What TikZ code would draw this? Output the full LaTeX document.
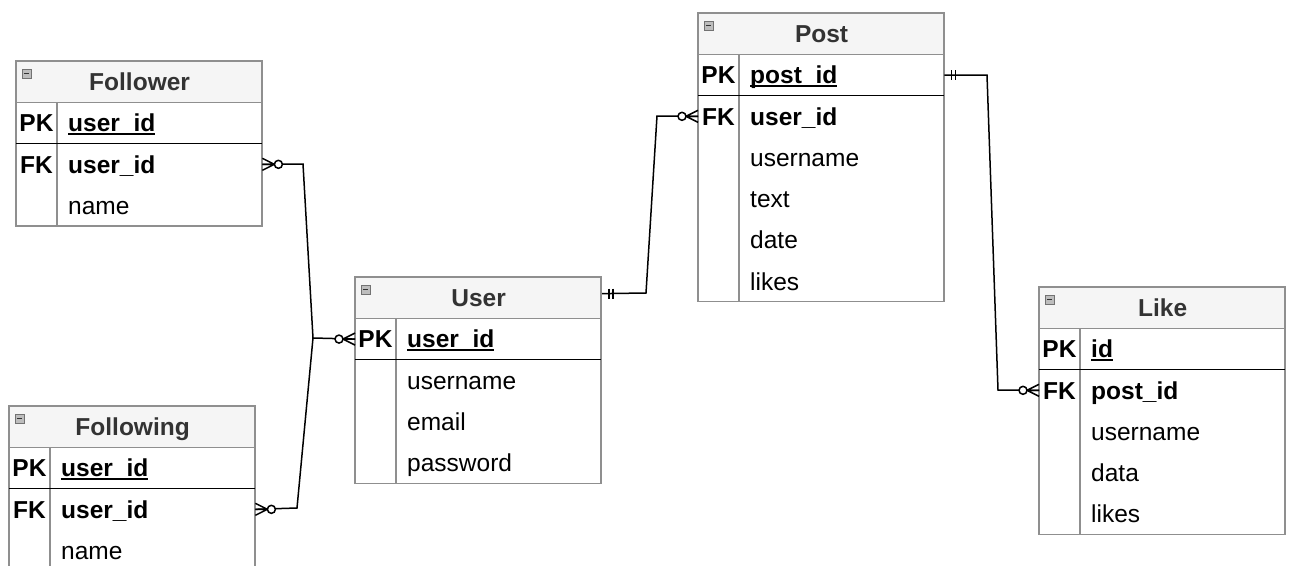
\documentclass[tikz,border=0pt]{standalone}
\usepackage{fontspec}
\setmainfont{Liberation Sans}

\definecolor{framegray}{HTML}{8F8F8F}
\definecolor{headfill}{HTML}{F5F5F5}
\definecolor{headink}{HTML}{333333}
\definecolor{iconfill}{HTML}{BDBDBD}

% primary-key field: text with a heavy underline
\newcommand{\pkname}[1]{\setbox0\hbox{#1}\rlap{\vrule height -1.4pt depth 3.2pt width \wd0}\box0}

\tikzset{
  tableframe/.style={draw=framegray, line width=1.2pt},
  keyrule/.style={draw=black, line width=1.6pt},
  iconbox/.style={draw=framegray!80!black, fill=iconfill, line width=0.9pt},
  iconbar/.style={draw=headink, line width=1.2pt},
  txt/.style={inner sep=0pt, text height=17.5pt, text depth=0pt},
  erhead/.style={txt, draw=framegray, line width=1.2pt, fill=headfill, text=headink,
    font=\fontsize{24.5}{28}\selectfont\bfseries, minimum width=246pt, minimum height=41.25pt},
  rowbox/.style={minimum width=246pt, minimum height=41.25pt, inner sep=0pt},
  keytext/.style={txt, font=\fontsize{24.5}{28}\selectfont\bfseries},
  fieldbold/.style={txt, font=\fontsize{24.5}{28}\selectfont\bfseries},
  fieldplain/.style={txt, font=\fontsize{24.5}{28}\selectfont},
  conn/.style={draw=black, line width=1.5pt},
  % zero-or-many end, table edge at the origin, line leaving toward +x
  zeromany/.pic={
    \draw[conn] (0,-6) -- (12,0) -- (0,6) (0,0) -- (12,0);
    \draw[conn, fill=white] (16,0) circle[radius=4];
  },
  % exactly-one end
  onemand/.pic={
    \draw[conn] (7,-5) -- (7,5) (11,-5) -- (11,5);
  }
}

% #1 id, #2 left, #3 top, #4 title, #5 number of rows under the header
\newcommand{\ertable}[5]{%
  \node[erhead, anchor=north west] (#1) at (#2,#3) {#4};
  \draw[tableframe] (#2,#3) rectangle ({#2+246},{#3+41.25*(#5+1)});
  \draw[tableframe] ({#2+41},{#3+41.25}) -- ({#2+41},{#3+41.25*(#5+1)});
  \draw[keyrule] (#2,{#3+82.5}) -- ({#2+246},{#3+82.5});
  \draw[iconbox] ({#2+6},{#3+8}) rectangle ({#2+15},{#3+17});
  \draw[iconbar] ({#2+7.8},{#3+12.5}) -- ({#2+13.2},{#3+12.5});
}

% #1 id, #2 table left, #3 table top, #4 row index, #5 key, #6 field, #7 field style
\newcommand{\errow}[7]{%
  \node[rowbox, anchor=north west] (#1) at (#2,{#3+41.25*#4}) {};
  \node[keytext] (#1-k) at ([xshift=20.5pt]#1.west) {#5};
  \node[#7, anchor=west] (#1-f) at ([xshift=52pt]#1.west) {#6};
}

\begin{document}
\begin{tikzpicture}[x=1pt, y=-1pt]
\path[fill=white, use as bounding box] (0,0) rectangle (1290,565);

% Follower
\ertable{follower}{16}{61}{Follower}{3}
\errow{follower-pk}{16}{61}{1}{PK}{\pkname{user\_id}}{fieldbold}
\errow{follower-fk}{16}{61}{2}{FK}{user\_id}{fieldbold}
\errow{follower-r3}{16}{61}{3}{}{name}{fieldplain}

% Following
\ertable{following}{9}{406}{Following}{3}
\errow{following-pk}{9}{406}{1}{PK}{\pkname{user\_id}}{fieldbold}
\errow{following-fk}{9}{406}{2}{FK}{user\_id}{fieldbold}
\errow{following-r3}{9}{406}{3}{}{name}{fieldplain}

% User
\ertable{user}{355}{277}{User}{4}
\errow{user-pk}{355}{277}{1}{PK}{\pkname{user\_id}}{fieldbold}
\errow{user-r2}{355}{277}{2}{}{username}{fieldplain}
\errow{user-r3}{355}{277}{3}{}{email}{fieldplain}
\errow{user-r4}{355}{277}{4}{}{password}{fieldplain}

% Post
\ertable{post}{698}{13}{Post}{6}
\errow{post-pk}{698}{13}{1}{PK}{\pkname{post\_id}}{fieldbold}
\errow{post-fk}{698}{13}{2}{FK}{user\_id}{fieldbold}
\errow{post-r3}{698}{13}{3}{}{username}{fieldplain}
\errow{post-r4}{698}{13}{4}{}{text}{fieldplain}
\errow{post-r5}{698}{13}{5}{}{date}{fieldplain}
\errow{post-r6}{698}{13}{6}{}{likes}{fieldplain}

% Like
\ertable{like}{1039}{287}{Like}{5}
\errow{like-pk}{1039}{287}{1}{PK}{\pkname{id}}{fieldbold}
\errow{like-fk}{1039}{287}{2}{FK}{post\_id}{fieldbold}
\errow{like-r3}{1039}{287}{3}{}{username}{fieldplain}
\errow{like-r4}{1039}{287}{4}{}{data}{fieldplain}
\errow{like-r5}{1039}{287}{5}{}{likes}{fieldplain}

% bend points of the relationship lines
\coordinate (fa) at (303,164);
\coordinate (fj) at (313,338);
\coordinate (fb) at (297,508);
\coordinate (us) at ([yshift=4.6pt]user.east);
\coordinate (ua) at (646,293);
\coordinate (ub) at (657,116);
\coordinate (pa) at (987,75);
\coordinate (pb) at (998,390);

% relationships
\draw[conn] (follower-fk.east) -- (fa) -- (fj) -- (user-pk.west);
\draw[conn] (following-fk.east) -- (fb) -- (fj);
\draw[conn] (us) -- (ua) -- (ub) -- (post-fk.west);
\draw[conn] (post-pk.east) -- (pa) -- (pb) -- (like-fk.west);

% cardinality marks
\pic at (follower-fk.east) {zeromany};
\pic at (following-fk.east) {zeromany};
\pic[xscale=-1] at (user-pk.west) {zeromany};
\pic[xscale=-1] at (post-fk.west) {zeromany};
\pic[xscale=-1] at (like-fk.west) {zeromany};
\pic at (us) {onemand};
\pic at (post-pk.east) {onemand};
\end{tikzpicture}
\end{document}
